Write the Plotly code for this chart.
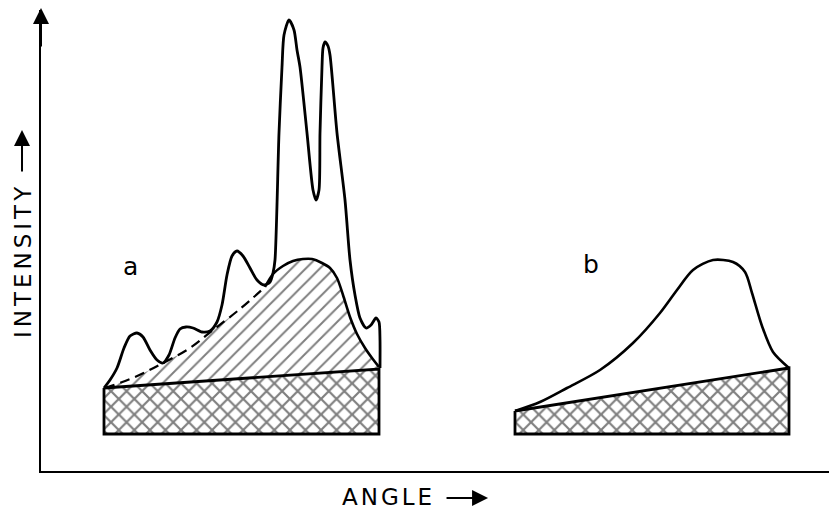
import plotly.graph_objects as go

# ---------------- data (angle / intensity, arbitrary units) ----------------
# pattern a : measured trace (crystalline peaks on top of amorphous halo)
a_angle = [63, 69, 76, 83, 89, 96, 102, 109, 116, 122, 128, 134, 139, 145, 152,
           161, 169, 176, 181, 186, 191, 196, 202, 209, 216, 223, 229, 232, 234,
           238, 241, 243, 248, 253, 256, 259, 266, 272, 275, 278, 279, 281, 282,
           284, 287, 289, 296, 304, 309, 314, 319, 325, 330, 335, 338, 339, 339]
a_intensity = [83, 91, 103, 123, 135, 138, 134, 121, 111, 108, 116, 133, 142, 144, 143,
               139, 140, 149, 166, 196, 215, 220, 215, 203, 191, 186, 189, 198, 211,
               338, 404, 436, 451, 441, 421, 404, 338, 281, 271, 281, 338, 404, 423,
               429, 425, 416, 338, 271, 211, 176, 153, 143, 146, 153, 149, 131, 103]

# amorphous halo of a : part hidden under the peaks (dashed) and visible part
a_halo_dash_angle = [64, 94, 122, 149, 172, 199, 224]
a_halo_dash_int = [83, 94, 108, 123, 141, 162, 184]
a_halo_solid_angle = [224, 232, 242, 252, 262, 271, 281, 289, 296, 302, 309, 316, 324, 331, 338]
a_halo_solid_int = [184, 197, 205, 210, 212, 212, 208, 203, 193, 176, 154, 137, 123, 113, 104]

# background (incoherent) band under a and b
a_bg_angle = [63, 338]
a_bg_top = [83, 102]
b_bg_angle = [474, 748]
b_bg_top = [60, 103]
bg_floor = 37

# pattern b : purely amorphous halo
b_halo_angle = [474, 499, 526, 559, 592, 619, 636, 652, 672, 692, 704, 711, 721, 732, 748]
b_halo_int = [60, 69, 83, 101, 128, 158, 181, 201, 211, 209, 199, 178, 145, 119, 103]

# ---------------- figure ----------------
INK = "black"
fig = go.Figure()


def box_xy(xs, tops, floor):
    return ([xs[0], xs[1], xs[1], xs[0], xs[0]],
            [tops[0], tops[1], floor, floor, tops[0]])


# hatched halo region of a (between background top and halo)
fig.add_trace(go.Scatter(x=a_bg_angle, y=a_bg_top, mode="lines",
                         line=dict(width=0, color=INK), hoverinfo="skip"))
fig.add_trace(go.Scatter(
    x=a_halo_dash_angle + a_halo_solid_angle[1:],
    y=a_halo_dash_int + a_halo_solid_int[1:],
    mode="lines", line=dict(width=0, color=INK, shape="spline", smoothing=0.8),
    fill="tonexty", fillcolor="white",
    fillpattern=dict(shape="/", fgcolor=INK, bgcolor="white", size=10, solidity=0.2),
    hoverinfo="skip"))

# background boxes (cross-hatched)
for xs, tops in ((a_bg_angle, a_bg_top), (b_bg_angle, b_bg_top)):
    bx, by = box_xy(xs, tops, bg_floor)
    fig.add_trace(go.Scatter(
        x=bx, y=by, mode="lines", fill="toself", fillcolor="white",
        fillpattern=dict(shape="x", fgcolor=INK, bgcolor="white", size=11, solidity=0.36),
        line=dict(color=INK, width=2.8), hoverinfo="skip"))

# halo lines
fig.add_trace(go.Scatter(x=a_halo_dash_angle, y=a_halo_dash_int, mode="lines",
                         line=dict(color=INK, width=2.2, dash="10px,6px", shape="spline"),
                         hoverinfo="skip"))
fig.add_trace(go.Scatter(x=a_halo_solid_angle, y=a_halo_solid_int, mode="lines",
                         line=dict(color=INK, width=2.6, shape="spline", smoothing=0.8),
                         hoverinfo="skip"))
fig.add_trace(go.Scatter(x=b_halo_angle, y=b_halo_int, mode="lines",
                         line=dict(color=INK, width=2.6, shape="spline", smoothing=0.8),
                         hoverinfo="skip"))

# measured trace a
fig.add_trace(go.Scatter(x=a_angle, y=a_intensity, mode="lines",
                         line=dict(color=INK, width=2.8, shape="spline", smoothing=0.7),
                         hoverinfo="skip"))

FONT = dict(family="DejaVu Sans", color=INK)
annotations = [
    # labels a, b
    dict(x=89, y=205, xref="x", yref="y", text="a", showarrow=False,
         xanchor="center", yanchor="middle", font=dict(size=25, **FONT)),
    dict(x=550, y=207, xref="x", yref="y", text="b", showarrow=False,
         xanchor="center", yanchor="middle", font=dict(size=25, **FONT)),
    # axis titles
    dict(x=-0.0228, y=0.4555, xref="paper", yref="paper", showarrow=False,
         xanchor="center", yanchor="middle",
         text='<span style="letter-spacing:4px">INTENSITY</span>', textangle=-90,
         font=dict(size=23, **FONT)),
    dict(x=0.4404, y=-0.0564, xref="paper", yref="paper", showarrow=False,
         xanchor="center", yanchor="middle",
         text='<span style="letter-spacing:3px">ANGLE</span>',
         font=dict(size=23, **FONT)),
    # arrows
    dict(x=-0.0241, y=0.7397, xref="paper", yref="paper", text="", showarrow=True,
         ax=0, ay=43, arrowhead=2, arrowsize=1.6, arrowwidth=2, arrowcolor=INK),
    dict(x=0.5673, y=-0.0586, xref="paper", yref="paper", text="", showarrow=True,
         ax=-43, ay=0, arrowhead=2, arrowsize=1.6, arrowwidth=2, arrowcolor=INK),
    dict(x=0, y=1.0043, xref="paper", yref="paper", text="", showarrow=True,
         ax=0, ay=40, arrowhead=2, arrowsize=1.6, arrowwidth=2, arrowcolor=INK),
]

axis_common = dict(showline=True, linecolor=INK, linewidth=2, showgrid=False,
                   zeroline=False, showticklabels=False, ticks="", fixedrange=True)
fig.update_layout(
    width=829, height=514,
    margin=dict(l=41, r=0, t=10, b=43, pad=0),
    paper_bgcolor="white", plot_bgcolor="white",
    showlegend=False,
    xaxis=dict(range=[0, 788], **axis_common),
    yaxis=dict(range=[0, 461], **axis_common),
    annotations=annotations,
)

fig.write_html("out.html")
